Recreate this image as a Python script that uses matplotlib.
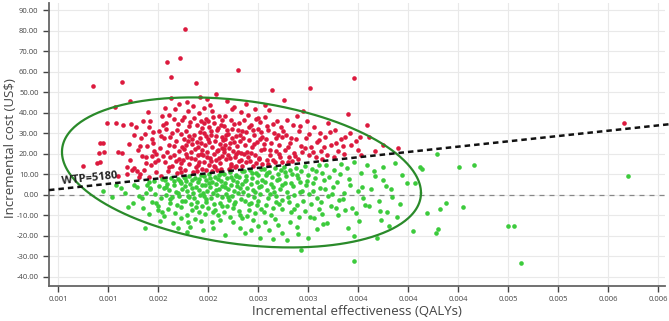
import numpy as np
import matplotlib
matplotlib.use("Agg")
import matplotlib.pyplot as plt

plt.rcParams['font.family'] = ['Open Sans', 'DejaVu Sans']
plt.rcParams['axes.unicode_minus'] = False

# willingness to pay (US$ per QALY)
WTP = 5180

# simulated (effect in QALYs, cost in US$) pairs
sims = [
    # above the WTP line
    (0.00080, 14.2), (0.00090, 53.2), (0.00094, 15.6), (0.00097, 16.1), (0.00096, 20.5),
    (0.00097, 25.4), (0.00100, 25.4), (0.00101, 21.0), (0.00104, 35.2), (0.00113, 35.2),
    (0.00119, 55.2), (0.00112, 43.0), (0.00115, 21.0), (0.00119, 20.5), (0.00115, 9.3),
    (0.00124, 10.3), (0.00129, 12.2), (0.00120, 34.2), (0.00127, 45.9), (0.00128, 34.7),
    (0.00126, 24.9), (0.00127, 17.1), (0.00124, 13.7), (0.00131, 13.2), (0.00134, 11.7),
    (0.00137, 10.3), (0.00133, 33.2), (0.00138, 27.8), (0.00135, 22.0), (0.00131, 29.3),
    (0.00139, 19.0), (0.00136, 8.8), (0.00140, 36.1), (0.00147, 36.1), (0.00146, 33.2),
    (0.00142, 29.8), (0.00149, 27.3), (0.00144, 23.9), (0.00151, 21.5), (0.00143, 18.6),
    (0.00155, 17.1), (0.00148, 14.6), (0.00141, 12.2), (0.00153, 11.2), (0.00158, 9.5),
    (0.00145, 40.5), (0.00156, 31.2), (0.00150, 25.4), (0.00157, 23.0), (0.00159, 38.6),
    (0.00152, 15.9), (0.00146, 9.0), (0.00164, 65.0), (0.00168, 57.6), (0.00177, 66.9),
    (0.00168, 47.4), (0.00162, 42.5), (0.00166, 39.0), (0.00171, 37.1), (0.00175, 34.6),
    (0.00163, 32.2), (0.00169, 30.3), (0.00178, 29.8), (0.00161, 27.8), (0.00173, 26.4),
    (0.00166, 24.4), (0.00179, 23.4), (0.00164, 21.0), (0.00171, 19.5), (0.00176, 17.6),
    (0.00162, 16.1), (0.00169, 14.2), (0.00177, 13.2), (0.00165, 11.7), (0.00174, 10.7),
    (0.00179, 36.6), (0.00172, 42.0), (0.00167, 28.3), (0.00176, 21.5), (0.00160, 19.0),
    (0.00173, 16.6), (0.00178, 11.0), (0.00182, 81.0), (0.00193, 54.7), (0.00184, 45.4),
    (0.00190, 43.5), (0.00196, 40.1), (0.00181, 38.1), (0.00187, 35.7), (0.00194, 34.2),
    (0.00199, 32.7), (0.00183, 31.2), (0.00191, 29.3), (0.00197, 27.8), (0.00185, 26.4),
    (0.00189, 24.9), (0.00195, 23.4), (0.00181, 22.5), (0.00188, 21.0), (0.00198, 20.0),
    (0.00184, 18.6), (0.00192, 17.6), (0.00196, 16.1), (0.00186, 15.1), (0.00193, 13.7),
    (0.00199, 12.7), (0.00182, 12.2), (0.00190, 11.2), (0.00197, 30.8), (0.00186, 29.0),
    (0.00194, 25.9), (0.00183, 24.4), (0.00199, 22.0), (0.00188, 18.1), (0.00195, 19.5),
    (0.00181, 27.3), (0.00191, 37.6), (0.00198, 36.1), (0.00213, 49.3), (0.00204, 46.9),
    (0.00201, 42.5), (0.00209, 41.0), (0.00216, 38.6), (0.00203, 37.1), (0.00211, 35.2),
    (0.00218, 34.2), (0.00206, 33.2), (0.00214, 31.7), (0.00201, 30.3), (0.00208, 29.3),
    (0.00219, 28.3), (0.00205, 27.3), (0.00212, 26.4), (0.00217, 24.9), (0.00202, 24.4),
    (0.00209, 23.4), (0.00215, 22.0), (0.00204, 21.0), (0.00211, 20.0), (0.00219, 19.0),
    (0.00207, 18.1), (0.00213, 17.1), (0.00201, 16.1), (0.00217, 15.6), (0.00206, 14.6),
    (0.00212, 13.7), (0.00218, 12.9), (0.00203, 12.2), (0.00209, 11.5), (0.00215, 32.7),
    (0.00210, 38.1), (0.00205, 35.9), (0.00220, 27.0), (0.00203, 28.8), (0.00214, 21.5),
    (0.00208, 16.8), (0.00219, 22.7), (0.00200, 19.5), (0.00235, 61.0), (0.00224, 45.9),
    (0.00231, 43.0), (0.00238, 40.5), (0.00222, 38.6), (0.00228, 36.6), (0.00236, 35.2),
    (0.00221, 33.7), (0.00229, 32.2), (0.00239, 31.2), (0.00225, 29.8), (0.00233, 28.8),
    (0.00222, 27.3), (0.00237, 26.4), (0.00227, 25.4), (0.00234, 23.9), (0.00221, 22.5),
    (0.00230, 21.5), (0.00238, 20.5), (0.00225, 19.5), (0.00232, 18.6), (0.00223, 17.6),
    (0.00236, 16.6), (0.00228, 15.1), (0.00239, 14.2), (0.00233, 13.9), (0.00226, 12.9),
    (0.00231, 34.7), (0.00224, 31.7), (0.00237, 29.3), (0.00229, 27.8), (0.00222, 24.4),
    (0.00235, 21.0), (0.00227, 18.1), (0.00252, 42.0), (0.00245, 39.1), (0.00241, 36.6),
    (0.00257, 35.7), (0.00248, 34.2), (0.00255, 32.2), (0.00243, 30.8), (0.00251, 29.3),
    (0.00259, 28.3), (0.00246, 26.9), (0.00254, 25.9), (0.00242, 24.4), (0.00249, 23.4),
    (0.00258, 22.0), (0.00244, 21.0), (0.00252, 19.5), (0.00256, 18.1), (0.00247, 16.6),
    (0.00253, 15.6), (0.00259, 14.9), (0.00241, 20.0), (0.00250, 31.7), (0.00257, 27.3),
    (0.00245, 18.6), (0.00255, 37.6), (0.00269, 51.3), (0.00266, 41.5), (0.00262, 38.1),
    (0.00274, 36.1), (0.00278, 33.2), (0.00265, 31.7), (0.00271, 30.3), (0.00279, 28.3),
    (0.00263, 27.3), (0.00268, 25.4), (0.00276, 24.4), (0.00261, 22.5), (0.00273, 21.5),
    (0.00267, 19.5), (0.00277, 18.6), (0.00264, 17.1), (0.00272, 15.9), (0.00279, 16.1),
    (0.00270, 34.7), (0.00275, 29.3), (0.00281, 46.4), (0.00284, 36.6), (0.00290, 34.2),
    (0.00296, 31.2), (0.00283, 29.3), (0.00293, 27.3), (0.00287, 25.4), (0.00298, 23.9),
    (0.00282, 22.0), (0.00291, 20.5), (0.00286, 18.6), (0.00295, 17.6), (0.00299, 21.0),
    (0.00289, 16.8), (0.00294, 38.6), (0.00307, 52.2), (0.00300, 41.0), (0.00304, 36.1),
    (0.00311, 33.2), (0.00317, 30.3), (0.00303, 27.8), (0.00314, 25.9), (0.00308, 23.4),
    (0.00318, 21.5), (0.00306, 19.5), (0.00313, 18.6), (0.00319, 17.6), (0.00325, 35.2),
    (0.00332, 31.7), (0.00322, 28.3), (0.00338, 27.3), (0.00328, 24.4), (0.00335, 21.5),
    (0.00324, 19.5), (0.00331, 18.6), (0.00345, 39.6), (0.00351, 57.1), (0.00342, 28.3),
    (0.00348, 24.4), (0.00355, 22.0), (0.00341, 20.0), (0.00358, 19.5), (0.00364, 34.2),
    (0.00366, 28.3), (0.00357, 28.3), (0.00395, 22.9), (0.00372, 21.5), (0.00380, 24.4),
    (0.00621, 35.2),
    (0.00153, 19.8), (0.00158, 28.6), (0.00163, 35.1), (0.00167, 18.3), (0.00171, 23.7),
    (0.00174, 31.9), (0.00178, 15.4), (0.00183, 20.1), (0.00186, 33.6), (0.00189, 27.1),
    (0.00192, 22.6), (0.00195, 14.8), (0.00198, 25.2), (0.00201, 34.9), (0.00204, 18.7),
    (0.00206, 25.8), (0.00208, 31.4), (0.00211, 14.3), (0.00213, 28.9), (0.00216, 17.9),
    (0.00219, 36.4), (0.00221, 20.8), (0.00223, 29.1), (0.00226, 23.1), (0.00228, 14.0),
    (0.00231, 25.9), (0.00233, 19.9), (0.00235, 31.8), (0.00238, 17.2), (0.00240, 27.6),
    (0.00243, 15.9), (0.00246, 33.1), (0.00248, 20.4), (0.00251, 24.8), (0.00253, 36.9),
    (0.00256, 17.4), (0.00258, 30.6), (0.00261, 25.0), (0.00264, 33.8), (0.00267, 22.0),
    (0.00270, 16.9), (0.00273, 27.7), (0.00276, 20.2), (0.00280, 31.0), (0.00285, 23.2),
    (0.00288, 27.9), (0.00292, 18.9), (0.00297, 33.7), (0.00302, 22.8), (0.00306, 29.6),
    (0.00310, 20.9), (0.00316, 27.0), (0.00321, 23.4), (0.00327, 30.9), (0.00333, 25.3),
    (0.00340, 24.0), (0.00347, 30.2), (0.00353, 26.3), (0.00185, 40.9), (0.00207, 44.1),
    (0.00229, 41.8), (0.00197, 47.6), (0.00243, 44.6), (0.00262, 43.7), (0.00176, 44.3),
    (0.00160, 33.9), (0.00150, 30.7), (0.00137, 24.1), (0.00143, 15.5), (0.00149, 19.2),
    (0.00166, 13.6), (0.00180, 17.0), (0.00194, 11.9), (0.00214, 12.4), (0.00232, 13.5),
    (0.00250, 14.2), (0.00265, 15.0), (0.00285, 16.1),
    # below the WTP line
    (0.00100, 2.0), (0.00109, -1.0), (0.00122, 1.0), (0.00130, -3.9), (0.00140, -6.3),
    (0.00142, -16.1), (0.00139, -1.5), (0.00147, 3.4), (0.00146, 6.3), (0.00131, 4.9),
    (0.00118, 3.4), (0.00136, -0.5), (0.00155, -7.3), (0.00159, -8.3), (0.00134, 3.9),
    (0.00144, 4.9), (0.00151, 6.8), (0.00147, 2.9), (0.00156, 4.4), (0.00152, 0.5),
    (0.00158, -1.5), (0.00143, 1.0), (0.00149, -3.4), (0.00155, -5.4), (0.00146, -9.3),
    (0.00159, 7.8), (0.00162, 7.3), (0.00168, 8.3), (0.00175, 7.8), (0.00164, 5.4),
    (0.00171, 4.9), (0.00178, 5.9), (0.00161, 3.4), (0.00166, 2.4), (0.00173, 1.5),
    (0.00179, 2.9), (0.00163, 0.0), (0.00169, -1.0), (0.00176, -0.5), (0.00167, -3.9),
    (0.00174, -4.9), (0.00179, -2.9), (0.00165, -6.8), (0.00172, -8.8), (0.00178, -11.2),
    (0.00170, -13.7), (0.00177, 6.6), (0.00161, -10.3), (0.00181, 8.8), (0.00186, 9.3),
    (0.00192, 8.3), (0.00198, 9.8), (0.00183, 6.8), (0.00189, 7.3), (0.00195, 6.3),
    (0.00182, 4.4), (0.00187, 5.4), (0.00193, 3.9), (0.00199, 4.9), (0.00184, 2.0),
    (0.00190, 1.0), (0.00196, 2.4), (0.00185, -0.5), (0.00191, -1.5), (0.00197, 0.0),
    (0.00182, -2.9), (0.00188, -4.4), (0.00194, -3.4), (0.00199, -5.4), (0.00184, -9.8),
    (0.00189, -7.3), (0.00196, -8.3), (0.00185, -13.2), (0.00184, -18.1), (0.00192, -11.7),
    (0.00198, -12.7), (0.00187, -15.6), (0.00201, 9.3), (0.00206, 10.3), (0.00212, 8.8),
    (0.00218, 10.7), (0.00203, 7.3), (0.00209, 6.3), (0.00215, 7.8), (0.00202, 4.9),
    (0.00207, 3.9), (0.00213, 5.4), (0.00219, 4.4), (0.00204, 2.0), (0.00210, 1.0),
    (0.00216, 2.9), (0.00201, -0.5), (0.00208, -1.5), (0.00214, 0.0), (0.00219, -1.0),
    (0.00203, -3.4), (0.00211, -4.4), (0.00217, -3.9), (0.00205, -6.3), (0.00212, -7.3),
    (0.00209, -13.2), (0.00210, -16.1), (0.00217, -12.2), (0.00202, -9.3), (0.00215, -9.8),
    (0.00207, 8.3), (0.00218, 6.8), (0.00221, 10.3), (0.00227, 11.2), (0.00233, 9.8),
    (0.00239, 11.7), (0.00224, 8.3), (0.00230, 7.3), (0.00236, 8.8), (0.00222, 5.9),
    (0.00228, 4.9), (0.00234, 6.3), (0.00239, 5.4), (0.00225, 2.9), (0.00231, 2.0),
    (0.00237, 3.4), (0.00223, 0.5), (0.00229, -0.5), (0.00235, 1.0), (0.00226, -2.4),
    (0.00232, -3.4), (0.00238, -2.0), (0.00224, -5.4), (0.00230, -6.3), (0.00236, -7.8),
    (0.00227, -10.7), (0.00230, -13.2), (0.00237, -16.1), (0.00239, -11.2), (0.00221, -8.3),
    (0.00233, 9.3), (0.00241, 11.7), (0.00247, 12.2), (0.00253, 10.7), (0.00258, 12.7),
    (0.00243, 9.3), (0.00249, 8.3), (0.00255, 9.8), (0.00242, 6.8), (0.00248, 5.4),
    (0.00254, 6.3), (0.00259, 7.3), (0.00244, 3.4), (0.00250, 2.4), (0.00256, 3.9),
    (0.00245, 0.0), (0.00251, -1.0), (0.00257, 0.5), (0.00242, -2.9), (0.00248, -3.9),
    (0.00254, -4.9), (0.00246, -7.3), (0.00252, -8.8), (0.00258, -6.8), (0.00242, -18.6),
    (0.00257, -21.0), (0.00250, -12.2), (0.00255, -15.1), (0.00244, -10.3), (0.00261, 12.7),
    (0.00266, 11.2), (0.00272, 13.2), (0.00278, 12.2), (0.00263, 9.8), (0.00269, 8.8),
    (0.00275, 10.3), (0.00262, 6.3), (0.00268, 5.4), (0.00274, 7.3), (0.00279, 4.9),
    (0.00264, 2.4), (0.00271, 1.5), (0.00277, 2.9), (0.00265, -1.5), (0.00273, -0.5),
    (0.00279, -2.4), (0.00263, -4.9), (0.00270, -6.3), (0.00276, -4.4), (0.00268, -9.8),
    (0.00272, -11.7), (0.00279, -18.6), (0.00275, -14.6), (0.00262, -13.2), (0.00266, -17.1),
    (0.00281, 13.7), (0.00287, 12.2), (0.00293, 13.2), (0.00298, 11.7), (0.00283, 9.3),
    (0.00289, 10.3), (0.00295, 8.3), (0.00282, 5.9), (0.00290, 4.4), (0.00297, 6.3),
    (0.00284, 1.5), (0.00291, 0.0), (0.00299, 2.0), (0.00286, -3.4), (0.00294, -4.9),
    (0.00288, -8.3), (0.00296, -10.7), (0.00284, -22.0), (0.00298, -26.9), (0.00294, -15.6),
    (0.00287, -13.2), (0.00302, 14.2), (0.00309, 12.7), (0.00316, 14.6), (0.00305, 9.8),
    (0.00312, 8.3), (0.00319, 10.7), (0.00303, 4.9), (0.00310, 5.9), (0.00317, 3.4),
    (0.00306, 0.5), (0.00314, -1.5), (0.00308, -4.4), (0.00316, -6.8), (0.00305, -21.0),
    (0.00314, -16.6), (0.00311, -11.2), (0.00319, -9.3), (0.00302, -7.8), (0.00323, 14.6),
    (0.00331, 12.2), (0.00338, 15.1), (0.00326, 8.8), (0.00334, 6.3), (0.00322, 2.9),
    (0.00329, 0.5), (0.00336, -2.4), (0.00324, -13.7), (0.00328, -5.4), (0.00342, -7.3),
    (0.00335, -9.8), (0.00344, 13.2), (0.00351, 16.1), (0.00358, 10.7), (0.00347, 4.9),
    (0.00355, 2.0), (0.00360, -1.5), (0.00362, -4.9), (0.00349, -6.3), (0.00351, -20.0),
    (0.00351, -32.2), (0.00356, -12.7), (0.00341, 1.0), (0.00364, 14.6), (0.00380, 13.7),
    (0.00372, 9.3), (0.00380, 7.3), (0.00383, 4.4), (0.00399, 9.8), (0.00389, -1.0),
    (0.00384, -8.3), (0.00377, -7.8), (0.00374, -21.0), (0.00394, -10.7), (0.00368, 2.9),
    (0.00392, 15.6), (0.00376, -2.9), (0.00386, -15.1), (0.00404, 5.9), (0.00412, 5.9),
    (0.00417, 13.7), (0.00419, 12.7), (0.00410, -17.6), (0.00424, -8.8), (0.00434, 20.0),
    (0.00435, -16.6), (0.00433, -18.6), (0.00443, -3.9), (0.00437, -6.8), (0.00460, -5.9),
    (0.00456, 13.7), (0.00471, 14.6), (0.00625, 9.3), (0.00505, -15.1), (0.00511, -15.1),
    (0.00518, -33.2),
    (0.00163, 4.1), (0.00167, -2.0), (0.00171, 6.9), (0.00175, 1.1), (0.00178, -6.1),
    (0.00182, 8.1), (0.00186, -1.2), (0.00189, 3.3), (0.00193, -5.9), (0.00196, 7.7),
    (0.00200, 0.8), (0.00203, -2.1), (0.00206, 5.7), (0.00210, -8.4), (0.00213, 2.4),
    (0.00216, 9.6), (0.00219, -5.2), (0.00222, 3.9), (0.00225, -0.8), (0.00228, 8.9),
    (0.00231, -4.4), (0.00234, 4.2), (0.00237, -9.6), (0.00240, 1.7), (0.00243, 7.4),
    (0.00246, -4.6), (0.00249, 10.6), (0.00252, 1.3), (0.00255, -2.9), (0.00258, 4.6),
    (0.00261, -8.1), (0.00264, 10.9), (0.00267, 0.4), (0.00270, 4.1), (0.00273, -3.3),
    (0.00276, 7.9), (0.00279, -6.7), (0.00282, 11.4), (0.00285, -1.1), (0.00288, 6.0),
    (0.00291, -6.8), (0.00294, 9.8), (0.00297, 1.6), (0.00300, -3.0), (0.00304, 7.0),
    (0.00307, -10.5), (0.00310, 2.0), (0.00313, 11.6), (0.00318, -3.5), (0.00321, 7.5),
    (0.00325, -0.5), (0.00330, 4.0), (0.00333, -6.2), (0.00337, 10.0), (0.00340, -2.0),
    (0.00346, 7.8), (0.00353, -8.8), (0.00359, 4.0), (0.00366, -5.5), (0.00371, 11.5),
    (0.00378, -12.0), (0.00388, 3.0), (0.00397, -4.5), (0.00157, -12.5), (0.00175, -16.0),
    (0.00200, -17.2), (0.00222, -19.5), (0.00248, -16.9), (0.00270, -21.5), (0.00295, -19.0),
    (0.00320, -14.0), (0.00345, -16.0), (0.00125, -6.0), (0.00113, 5.0), (0.00153, -4.1),
]

x_tick_labels = ['0.001', '0.001', '0.002', '0.002', '0.003', '0.003', '0.004',
                 '0.004', '0.004', '0.005', '0.005', '0.006', '0.006']
y_ticks = list(range(-40, 91, 10))

effect = np.array([p[0] for p in sims])
cost = np.array([p[1] for p in sims])
above = cost > WTP * effect

fig = plt.figure(figsize=(6.69, 3.21), dpi=100)
ax = fig.add_axes([0.0732, 0.109, 0.9208, 0.882])

x_ticks = 0.00055 + 0.0005 * np.arange(len(x_tick_labels))
ax.set_xlim(0.00046, 0.00662)
ax.set_ylim(-44.4, 93.7)
ax.set_xticks(x_ticks)
ax.set_xticklabels(x_tick_labels)
ax.set_yticks(y_ticks)
ax.set_yticklabels(['%.2f' % v for v in y_ticks])
ax.grid(True, color='#e9e9e9', lw=0.8)
ax.set_axisbelow(True)

for s in ['top', 'right']:
    ax.spines[s].set_visible(False)
for s in ['left', 'bottom']:
    ax.spines[s].set_color('#666666')
    ax.spines[s].set_linewidth(1.3)
ax.tick_params(axis='both', labelsize=5.5, colors='#444444', length=4, width=1)

# zero line
ax.axhline(0, color='#888888', lw=0.9, ls=(0, (4, 4)), zorder=1)

ax.scatter(effect[above], cost[above], s=11, color='#dc1a3e', lw=0, zorder=2)
ax.scatter(effect[~above], cost[~above], s=11, color='#3ccb3c', lw=0, zorder=2)

# confidence ellipse
t = np.linspace(0, 2 * np.pi, 400)
ex = 0.002385 + 0.001795 * np.cos(t)
ey = 11.0 - 10.0 * np.cos(t) + 35.2 * np.sin(t)
ax.plot(ex, ey, color='#2a8a2a', lw=1.6, zorder=3)

# WTP threshold line
xl = np.array([0.00046, 0.00666])
ax.plot(xl, WTP * xl, color='#111111', lw=1.8, ls=(0, (2.2, 1.6)), zorder=4, clip_on=False)
ax.text(0.00058, 7.8, 'WTP=%d' % WTP, fontsize=8, fontweight='bold', color='#222222',
        rotation=6, va='center', ha='left')

ax.set_xlabel('Incremental effectiveness (QALYs)', fontsize=9.5, color='#444444')
ax.set_ylabel('Incremental cost (US$)', fontsize=9.5, color='#444444')
ax.xaxis.set_label_coords(0.5, -0.068)
ax.yaxis.set_label_coords(-0.052, 0.488)

fig.savefig('out.png', dpi=100)
